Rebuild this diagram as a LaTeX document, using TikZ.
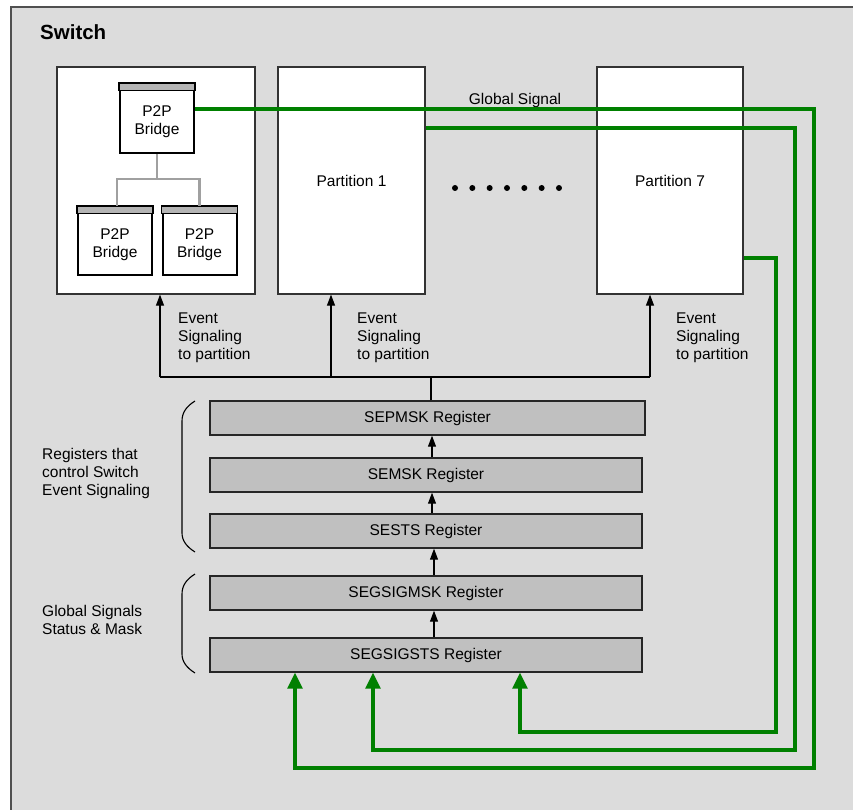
\documentclass[tikz,border=0pt]{standalone}
\usepackage{fontspec}
\setmainfont{Liberation Sans}
\usetikzlibrary{arrows.meta}
\definecolor{bgfill}{HTML}{DCDCDC}
\definecolor{regfill}{HTML}{C0C0C0}
\definecolor{hdrfill}{HTML}{B4B4B4}
\definecolor{sgreen}{HTML}{008000}
\definecolor{conngray}{HTML}{A0A0A0}
\definecolor{bordergray}{HTML}{505050}
\begin{document}
\begin{tikzpicture}[x=1pt,y=-1pt,
  font=\fontsize{15.5}{18}\selectfont,
  part/.style={draw=black!80, line width=1.2pt, fill=white, inner sep=0pt, align=center},
  bridge/.style={draw=black, line width=2pt, fill=white, inner sep=0pt, align=center, minimum width=74pt, minimum height=68pt},
  hdr/.style={draw=black, line width=1.6pt, fill=hdrfill},
  reg/.style={draw=black!85, line width=1.4pt, fill=regfill, inner sep=0pt, minimum height=34pt},
  sig/.style={draw=sgreen, line width=3.1pt, line join=miter, -{Triangle[width=15pt,length=16pt]}},
  ev/.style={draw=black, line width=1.1pt},
  evarrow/.style={ev, -{Triangle[width=8pt,length=11pt]}},
  conn/.style={draw=conngray, line width=2.8pt},
  brace/.style={draw=black, line width=1.1pt},
  lbl/.style={align=left, anchor=west, inner sep=0pt}
]
\useasboundingbox (0,0) rectangle (853,810);
% outer switch area
\fill[bgfill] (11,7) rectangle (853,810);
\draw[bordergray, line width=1.6pt] (11,810) -- (11,7) -- (853,7);
\node[anchor=west, inner sep=0pt, font=\fontsize{20.5}{24}\selectfont\bfseries] (sw) at (40,32) {Switch};

% partitions
\node[part, minimum width=198pt, minimum height=227pt] (p0) at (156,180.5) {};
\node[part, minimum width=147pt, minimum height=227pt] (p1) at (351.5,180.5) {Partition 1};
\node[part, minimum width=146pt, minimum height=227pt] (p7) at (670,180.5) {Partition 7};

% dots
\foreach \i in {0,...,6} \fill (455+\i*17.33,188) circle (3pt);

% bridges
\node[bridge, minimum height=69pt] (b0) at (157,118.5) {\\P2P\\Bridge};
\node[bridge] (b1) at (115,241) {\\P2P\\Bridge};
\node[bridge] (b2) at (199.5,241) {\\P2P\\Bridge};
\foreach \b in {b0,b1,b2} \draw[hdr] (\b.north west) rectangle ([yshift=-7.5pt]\b.north east);
\draw[conn] (b0.south) -- ++(0,25) coordinate (cj) -| ([xshift=2pt]b1.north);
\draw[conn] (cj) -| (b2.north);

\node[inner sep=0pt] (gs) at (515,100) {Global Signal};

% registers
\node[reg, minimum width=435pt] (r1) at (427.5,418) {SEPMSK Register};
\node[reg, minimum width=432pt] (r2) at (426,475) {SEMSK Register};
\node[reg, minimum width=432pt] (r3) at (426,531) {SESTS Register};
\node[reg, minimum width=432pt] (r4) at (426,593) {SEGSIGMSK Register};
\node[reg, minimum width=432pt] (r5) at (426,655) {SEGSIGSTS Register};

% register arrows
\coordinate (ax) at (432,0);
\coordinate (ay) at (434,0);
\draw[evarrow] (r2.north -| ax) -- (r1.south -| ax);
\draw[evarrow] (r3.north -| ax) -- (r2.south -| ax);
\draw[evarrow] (r4.north -| ay) -- (r3.south -| ay);
\draw[evarrow] (r5.north -| ay) -- (r4.south -| ay);

% event bus
\coordinate (a0) at (160,377);
\coordinate (a1) at (331,377);
\coordinate (a7) at (650,377);
\coordinate (bx) at (431,377);
\draw[ev] (a0) -- (a7);
\draw[ev] (r1.north -| bx) -- (bx);
\draw[evarrow] (a0) -- (a0 |- p0.south);
\draw[evarrow] (a1) -- (a1 |- p1.south);
\draw[evarrow] (a7) -- (a7 |- p7.south);

\node[lbl] (e0) at (178,338) {Event\\Signaling\\to partition};
\node[lbl] (e1) at (357,338) {Event\\Signaling\\to partition};
\node[lbl] (e7) at (676,338) {Event\\Signaling\\to partition};

% braces and group labels
\draw[brace] (195,401) .. controls (187,406) and (182,412) .. (182,421) -- (182,533) .. controls (182,541) and (187,547) .. (195,552);
\draw[brace] (195,574) .. controls (187,579) and (182,585) .. (182,594) -- (182,654) .. controls (182,662) and (187,668) .. (195,673);
\node[lbl] (lg1) at (42,473) {Registers that\\control Switch\\Event Signaling};
\node[lbl] (lg2) at (42,620) {Global Signals\\Status \& Mask};

% green global signal lines
\coordinate (t1) at (295,0);
\coordinate (t2) at (373,0);
\coordinate (t3) at (520,0);
\draw[sig] ([yshift=9.5pt]b0.east) -- (814,109) -- (814,768) -- (295,768) -- (r5.south -| t1);
\draw[sig] ([yshift=52.5pt]p1.east) -- (795,128) -- (795,750) -- (373,750) -- (r5.south -| t2);
\draw[sig] ([yshift=-77.5pt]p7.east) -- (776,258) -- (776,732) -- (520,732) -- (r5.south -| t3);
\end{tikzpicture}
\end{document}
